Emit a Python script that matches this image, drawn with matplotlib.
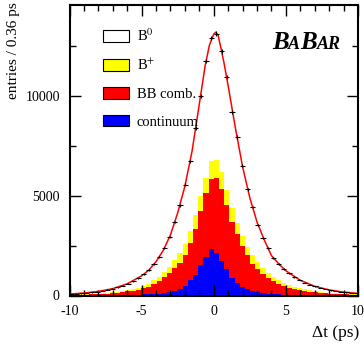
import numpy as np
import matplotlib.pyplot as plt
from matplotlib.patches import Patch
from matplotlib.ticker import MultipleLocator

plt.rcParams['font.family'] = ['Liberation Serif', 'DejaVu Serif']
plt.rcParams['mathtext.fontset'] = 'stix'

# 0.36 ps bins from -10.08 to 10.08 (56 bins)
bin_width = 0.36
edges = np.arange(-28, 29) * bin_width
centers = 0.5 * (edges[:-1] + edges[1:])

# data (entries per bin)
data_counts = [80, 95, 110, 135, 160, 195, 235, 285, 340, 410,
               500, 600, 720, 870, 1060, 1273, 1591, 1943, 2362, 2948,
               3685, 4523, 5545, 6720, 8410, 10020, 11740, 12910, 13130, 12230,
               10940, 9210, 7955, 6500, 5330, 4440, 3530, 2900, 2400, 1890,
               1590, 1330, 1110, 930, 780, 650, 545, 455, 380, 320,
               265, 220, 185, 155, 130, 110]

# stacked components, cumulative tops
upto_bplus = [37, 44, 52, 62, 74, 90, 108, 130, 156, 188, 228, 275, 330, 400, 490,
              586, 754, 938, 1173, 1441, 1759, 2110, 2596, 3233, 4020, 4991, 5913, 6750,
              6784, 6165, 5276, 4405, 3618, 2981, 2446, 2010, 1675, 1373, 1139, 921, 754,
              625, 520, 437, 366, 305, 256, 214, 179, 150, 125, 103, 87, 73, 61, 52]
upto_bbcomb = [27, 32, 38, 45, 54, 66, 80, 96, 115, 139, 168, 203, 244, 296, 362,
               436, 553, 720, 938, 1139, 1390, 1641, 2010, 2646, 3317, 4237, 5159, 5860,
               5913, 5360, 4523, 3685, 3065, 2479, 2010, 1591, 1340, 1089, 888, 720, 586,
               481, 400, 336, 282, 235, 197, 165, 138, 116, 96, 79, 67, 56, 47, 40]
continuum = [12, 13, 14, 15, 16, 18, 20, 22, 25, 28, 30, 35, 40, 45, 55,
             65, 80, 100, 150, 200, 250, 335, 500, 770, 1040, 1507, 1945, 2330,
             2145, 1725, 1340, 888, 636, 436, 302, 218, 168, 134, 100, 67, 55,
             45, 40, 35, 30, 28, 25, 22, 20, 18, 16, 15, 14, 13, 12, 12]

# fitted curve
fit_t = [-10, -9, -8, -7, -6, -5, -4.5, -4, -3.5, -3, -2.5, -2, -1.5, -1.0, -0.6,
         -0.3, 0.0, 0.15, 0.3, 0.5, 0.7, 1.0, 1.5, 2, 2.5, 3, 3.5, 4, 4.5, 5,
         6, 7, 8, 9, 10]
fit_n = [75, 122, 205, 343, 585, 985, 1273, 1700, 2260, 3040, 4140, 5480, 7250, 9600, 11500,
         12550, 13100, 13200, 13050, 12400, 11700, 10500, 8400, 6450, 4900, 3680, 2790, 2000, 1590, 1240,
         760, 460, 280, 170, 105]

labels = ['B$^{0}$', 'B$^{+}$', 'BB comb.', 'continuum']
colors = ['white', '#ffff00', '#ff0000', '#0000ff']

fig = plt.figure(figsize=(3.64, 3.44), dpi=100)
ax = fig.add_axes([69.5 / 364, 48.5 / 344, 288.5 / 364, 290.5 / 344])

ax.stairs(data_counts, edges, fill=True, color=colors[0])
ax.stairs(upto_bplus, edges, fill=True, color=colors[1])
ax.stairs(upto_bbcomb, edges, fill=True, color=colors[2])
ax.stairs(continuum, edges, fill=True, color=colors[3])

ax.plot(fit_t, fit_n, color='red', lw=1.1, zorder=4)
ax.errorbar(centers, data_counts, xerr=bin_width / 2, yerr=np.sqrt(data_counts),
            fmt='none', ecolor='black', elinewidth=0.8, capsize=0, zorder=5)

ax.set_xlim(-10, 10)
ax.set_ylim(0, 14560)
ax.set_xticks([-10, -5, 0, 5, 10])
ax.set_xticklabels(['-10', '-5', '0', '5', '10'])
ax.set_yticks([0, 5000, 10000])
ax.xaxis.set_minor_locator(MultipleLocator(1))
ax.yaxis.set_minor_locator(MultipleLocator(2500))
ax.tick_params(which='both', direction='in', top=True, right=True, width=1, labelsize=10, pad=7)
ax.tick_params(which='major', length=8)
ax.tick_params(which='minor', length=4)
for s in ax.spines.values():
    s.set_linewidth(1.5)

handles = [Patch(facecolor=c, edgecolor='black', lw=0.8) for c in colors]
ax.legend(handles, labels, loc='upper left', bbox_to_anchor=(0.115, 0.9225),
          frameon=False, fontsize=10.5, handlelength=1.8, handleheight=0.85,
          labelspacing=0.95, handletextpad=0.55, borderpad=0, borderaxespad=0)

# BaBar logo
style = dict(fontweight='bold', fontstyle='italic', va='baseline')
t = ax.text(0.701, 0.8475, 'B', transform=ax.transAxes, fontsize=18, **style)
for txt, size in [('A', 13), ('B', 18), ('AR', 13)]:
    t = ax.annotate(txt, xy=(1, 0.8475), xycoords=(t, 'axes fraction'), fontsize=size, **style)

fig.text(14 / 364, 1 - 2 / 344, 'entries / 0.36 ps', rotation=90, ha='center', va='top', fontsize=11)
fig.text(359 / 364, 1 - 337 / 344, '\u0394t (ps)', ha='right', va='baseline', fontsize=12.5)

fig.savefig('out.png', dpi=100)
